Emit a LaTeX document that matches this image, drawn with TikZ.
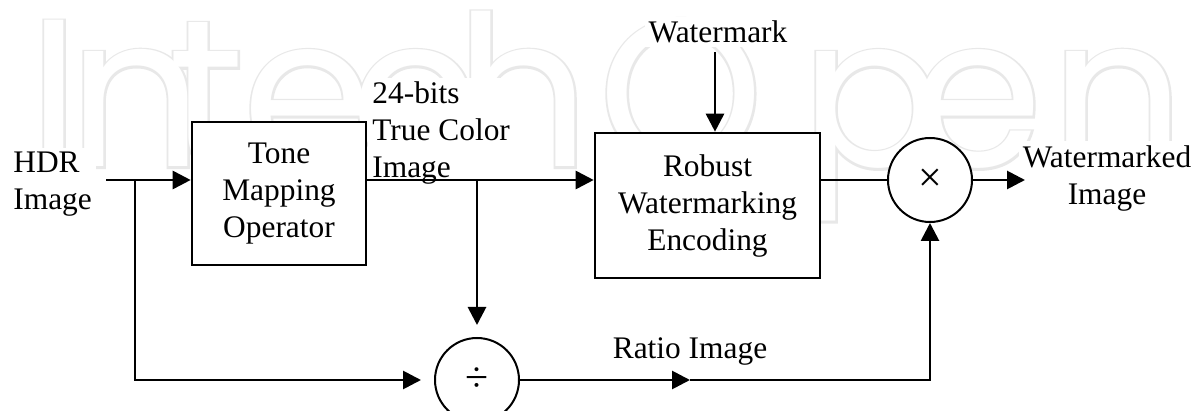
\documentclass[tikz,border=0pt]{standalone}
\usepackage{fontspec}
\setmainfont{Liberation Serif}
\newfontfamily\logoB[FakeBold=2]{Poppins}
\newfontfamily\logoN{Poppins}
\usetikzlibrary{arrows.meta,calc}
\begin{document}
\begin{tikzpicture}[x=0.5pt,y=-0.5pt,
  every node/.style={font=\fontsize{15.7pt}{18.5pt}\selectfont},
  blk/.style={draw, line width=1.3pt, fill=white, align=center, inner sep=0pt},
  opnode/.style={draw, circle, line width=1pt, fill=white, inner sep=0pt, font=\fontsize{21pt}{22pt}\selectfont},
  lbl/.style={fill=white, inner sep=2pt},
  conn/.style={line width=1.4pt},
  arr/.style={conn, -{Triangle[length=9pt,width=9pt]}},
  logoring/.style={anchor=base west, inner sep=0pt, text=black!9, font=\fontsize{105pt}{110pt}\logoB},
  logofill/.style={anchor=base west, inner sep=0pt, text=white, font=\fontsize{105pt}{110pt}\logoN},
]
\useasboundingbox (0,0) rectangle (1200,411);
\fill[white] (0,0) rectangle (1200,411);

% faint publisher logo in the background (outlined letters)
\foreach \lx/\lc in {28/I, 68/n, 168/t, 242/e, 350/c, 455/h, 598/O, 800/p, 912/e, 1050/n}
  \node[logoring] (lgb\lx) at (\lx,167) {\lc};
\foreach \lx/\lc in {28/I, 68/n, 168/t, 242/e, 350/c, 455/h, 598/O, 800/p, 912/e, 1050/n}
  \node[logofill] (lgw\lx) at (\lx,167) {\lc};

% blocks
\node[blk, minimum width=87pt, minimum height=71.5pt] (tone) at (279,193.5) {Tone\\Mapping\\Operator};
\node[blk, minimum width=112.5pt, minimum height=72.5pt] (robust) at (707.5,205.5) {Robust\\Watermarking\\Encoding};
\node[opnode, minimum size=42pt] (div) at (477,380) {\raisebox{-1.5pt}{÷}};
\node[opnode, minimum size=42pt] (mul) at (930,180) {\raisebox{-2pt}{×}};

% labels
\node[lbl, align=left, anchor=west] (hdr) at (9,184.5) {HDR\\Image};
\node[lbl, align=left, anchor=west] (tc) at (368,133) {24-bits\\True Color\\Image};
\node[lbl, anchor=base] (wm) at (718,43) {Watermark};
\node[lbl, anchor=base] (ri) at (690,358) {Ratio Image};
\node[lbl, align=center] (wmi) at (1107,178) {Watermarked\\Image};

% coordinates
\coordinate (hs) at (106,180);
\coordinate (b1) at (135,180);
\coordinate (b2) at (477,180);
\coordinate (rm) at (690,380);
\coordinate (oe) at (1025,180);

% connectors
\draw[arr] (hs) -- (hs -| tone.west);
\draw[arr] (b1) |- ([xshift=-6.5pt]div.west);
\draw[arr] (hs -| tone.east) -- (hs -| robust.west);
\draw[arr] (b2) -- ([yshift=6pt]div.north);
\draw[arr] (div.east) -- (rm);
\draw[arr] (rm) -| (mul.south);
\draw[arr, shorten <=2pt] ([xshift=-1.5pt]wm.south) -- ([xshift=-1.5pt]wm.south |- robust.north);
\draw[conn] (robust.east |- mul) -- (mul.west);
\draw[arr] (mul.east) -- (oe);
\end{tikzpicture}
\end{document}
